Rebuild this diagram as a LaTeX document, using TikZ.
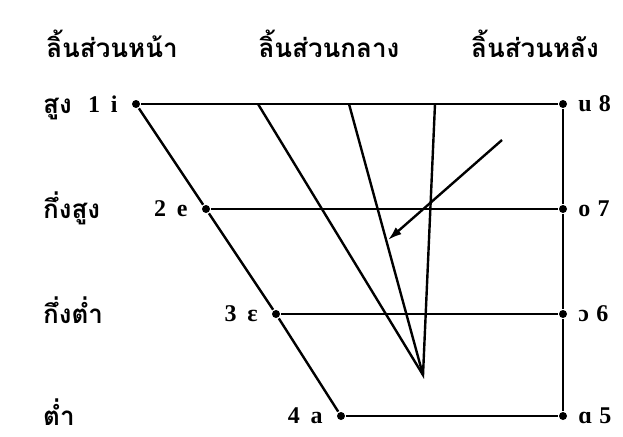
\documentclass[tikz,border=0pt]{standalone}
\usepackage{fontspec}
\newfontfamily\thaifont[Script=Thai]{Loma}
\newfontfamily\ipafont{Liberation Serif}
\usetikzlibrary{arrows.meta,positioning}

\begin{document}
\begin{tikzpicture}[x=1pt,y=-1pt,>=Latex,line width=2.4pt]
  \useasboundingbox (0,0) rectangle (623,436);
  \tikzset{vdot/.style={circle,fill,inner sep=0pt,minimum size=8pt},
    thai/.style={font=\thaifont\bfseries\fontsize{26}{30}\selectfont,inner sep=0pt},
    ipa/.style={font=\ipafont\bfseries\fontsize{24}{28}\selectfont,inner sep=0pt}}
  % column headers
  \node[thai,anchor=base] (hfront) at (112,58) {ลิ้นส่วนหน้า};
  \node[thai,anchor=base] (hcentral) at (329,58) {ลิ้นส่วนกลาง};
  \node[thai,anchor=base] (hback) at (535,58) {ลิ้นส่วนหลัง};
  % rows: n/y/front x/front label/back label/height label
  \foreach \n/\y/\x/\fl/\bl/\hl in {1/104/136/1\hspace{0.45em}i/u\hspace{0.3em}8/สูง,2/209/206/2\hspace{0.45em}e/o\hspace{0.3em}7/กึ่งสูง,3/314/276/3\hspace{0.45em}ɛ/ɔ\hspace{0.3em}6/กึ่งต่ำ,4/416/341/4\hspace{0.45em}a/ɑ\hspace{0.3em}5/ต่ำ}{
    \node[vdot] (f\n) at (\x,\y) {};
    \node[vdot] (b\n) at (563,\y) {};
    \node[ipa,left=12pt of f\n] (fl\n) {\fl};
    \node[ipa,right=9pt of b\n] (bl\n) {\bl};
    \node[thai,anchor=base west] (hl\n) at (42,\y+9) {\hl};
    \draw (f\n) -- (b\n);
  }
  \draw (f1) -- (f2) -- (f3) -- (f4);
  \draw (b1) -- (b2) -- (b3) -- (b4);
  % central lines
  \coordinate (apex) at (423,375);
  \coordinate (t1) at (258,104);
  \coordinate (t2) at (349,104);
  \coordinate (t3) at (435,104);
  \draw (t1) -- (apex) -- (t3);
  \draw (t2) -- (apex);
  \coordinate (astart) at (502,140);
  \coordinate (aend) at (388,240);
  \draw[-{Latex[length=14pt,width=9pt]}] (astart) -- (aend);
\end{tikzpicture}
\end{document}
